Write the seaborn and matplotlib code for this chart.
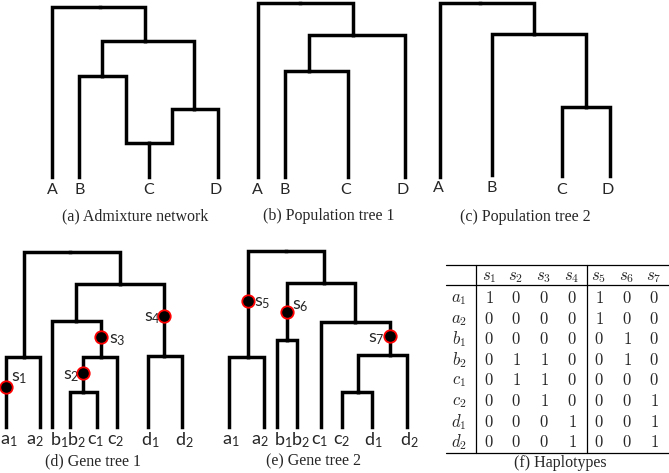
import pandas as pd
import matplotlib.pyplot as plt
import seaborn as sns

# ---- tree / network layouts: node -> (x, y) in figure pixels (y downward) ----
net_a_nodes = {'root': (100, 7), 'n1': (145, 41), 'n2': (102, 76), 'n4': (194, 109),
               'h': (149, 143), 'A': (52, 177), 'B': (79, 177), 'C': (149, 177), 'D': (218, 177)}
net_a_edges = [('root', 'A'), ('root', 'n1'), ('n1', 'n2'), ('n1', 'n4'), ('n2', 'B'),
               ('n2', 'h', 126), ('n4', 'h', 172), ('h', 'C'), ('n4', 'D')]

pop1_nodes = {'root': (300, 3), 'n1': (353, 35), 'n2': (309, 71),
              'A': (258, 177), 'B': (285, 177), 'C': (348, 177), 'D': (405, 177)}
pop1_edges = [('root', 'A'), ('root', 'n1'), ('n1', 'n2'), ('n1', 'D'), ('n2', 'B'), ('n2', 'C')]

pop2_nodes = {'root': (480, 3), 'n1': (534, 34), 'n2': (586, 107),
              'A': (440, 177), 'B': (492, 175), 'C': (562, 176), 'D': (610, 176)}
pop2_edges = [('root', 'A'), ('root', 'n1'), ('n1', 'B'), ('n1', 'n2'), ('n2', 'C'), ('n2', 'D')]

gene1_nodes = {'root': (70, 252), 'na': (24, 357), 'n1': (120, 284), 'nb': (76, 321),
               'n3': (101, 357), 'n2': (83, 392), 'nd': (164, 356),
               'a1': (6, 427), 'a2': (40, 427), 'b1': (52, 427), 'b2': (70, 427),
               'c1': (97, 427), 'c2': (117, 427), 'd1': (148, 427), 'd2': (182, 427)}
gene1_edges = [('root', 'na'), ('root', 'n1'), ('na', 'a1'), ('na', 'a2'), ('n1', 'nb'),
               ('n1', 'nd'), ('nb', 'b1'), ('nb', 'n3'), ('n3', 'n2'), ('n3', 'c2'),
               ('n2', 'b2'), ('n2', 'c1'), ('nd', 'd1'), ('nd', 'd2')]

gene2_nodes = {'root': (286, 251), 'n5': (248, 357), 'n1': (324, 283), 'n6': (287, 340),
               'n2': (355, 322), 'n7': (390, 355), 'n8': (358, 392),
               'a1': (229, 427), 'a2': (264, 427), 'b1': (277, 427), 'b2': (297, 427),
               'c1': (321, 427), 'c2': (342, 427), 'd1': (372, 427), 'd2': (407, 427)}
gene2_edges = [('root', 'n5'), ('root', 'n1'), ('n5', 'a1'), ('n5', 'a2'), ('n1', 'n6'),
               ('n1', 'n2'), ('n6', 'b1'), ('n6', 'b2'), ('n2', 'c1'), ('n2', 'n7'),
               ('n7', 'n8'), ('n7', 'd2'), ('n8', 'c2'), ('n8', 'd1')]

# leaf labels: (text, x, y)
pop_labels = [('A', 52, 190), ('B', 80, 190), ('C', 149, 190), ('D', 216, 190),
              ('A', 257, 190), ('B', 285, 190), ('C', 346, 190), ('D', 403, 190),
              ('A', 438, 188), ('B', 492, 188), ('C', 562, 190), ('D', 608, 190)]
gene_labels = [('a_1', 9, 440), ('a_2', 35, 440), ('b_1', 59, 440), ('b_2', 76, 440),
               ('c_1', 96, 440), ('c_2', 116, 440), ('d_1', 150, 440), ('d_2', 184, 440),
               ('a_1', 231, 440), ('a_2', 260, 440), ('b_1', 283, 440), ('b_2', 300, 440),
               ('c_1', 320, 440), ('c_2', 342, 440), ('d_1', 373, 440), ('d_2', 409, 440)]

# mutations: (name, dot x, dot y, label x, label y)
mutations = [('s_1', 6, 387, 19, 377), ('s_2', 83, 373, 71, 375), ('s_3', 101, 337, 117, 339),
             ('s_4', 164, 316, 152, 317), ('s_5', 248, 301, 262, 302),
             ('s_6', 287, 312, 300, 305), ('s_7', 390, 336, 376, 338)]

captions = [('(a) Admixture network', 135, 216), ('(b) Population tree 1', 329, 216),
            ('(c) Population tree 2', 525, 217), ('(d) Gene tree 1', 93, 461),
            ('(e) Gene tree 2', 314, 461), ('(f) Haplotypes', 560, 463)]

# haplotype table
hap_rows = ['a_1', 'a_2', 'b_1', 'b_2', 'c_1', 'c_2', 'd_1', 'd_2']
hap_cols = ['s_1', 's_2', 's_3', 's_4', 's_5', 's_6', 's_7']
haplotypes = [[1, 0, 0, 0, 1, 0, 0],
              [0, 0, 0, 0, 1, 0, 0],
              [0, 0, 0, 0, 0, 1, 0],
              [0, 1, 1, 0, 0, 1, 0],
              [0, 1, 1, 0, 0, 0, 0],
              [0, 0, 1, 0, 0, 0, 1],
              [0, 0, 0, 1, 0, 0, 1],
              [0, 0, 0, 1, 0, 0, 1]]
col_x = [489, 516, 544, 572, 599, 627, 654]
row_y0, row_dy = 298, 20.6


def tree_segments(nodes, edges, tag):
    rows = []
    for k, e in enumerate(edges):
        xp, yp = nodes[e[0]]
        xc, yc = nodes[e[1]]
        bend = e[2] if len(e) > 2 else xc
        pts = [(xp, yp), (bend, yp), (bend, yc), (xc, yc)]
        clean = [pts[0]]
        for p in pts[1:]:
            if p != clean[-1]:
                clean.append(p)
        for x, y in clean:
            rows.append({'seg': f'{tag}{k}', 'x': x, 'y': y})
    return rows


sns.set_theme(style='white')
plt.rcParams['mathtext.fontset'] = 'custom'
plt.rcParams['mathtext.rm'] = 'Lato'
plt.rcParams['mathtext.it'] = 'Lato:italic'

fig = plt.figure(figsize=(6.69, 4.73), dpi=100)
ax = fig.add_axes([0, 0, 1, 1])

segs = []
for tag, (nodes, edges) in {'a': (net_a_nodes, net_a_edges), 'b': (pop1_nodes, pop1_edges),
                            'c': (pop2_nodes, pop2_edges), 'd': (gene1_nodes, gene1_edges),
                            'e': (gene2_nodes, gene2_edges)}.items():
    segs += tree_segments(nodes, edges, tag)
seg_df = pd.DataFrame(segs)

sns.lineplot(data=seg_df, x='x', y='y', units='seg', estimator=None, sort=False,
             color='black', linewidth=2.5, solid_capstyle='projecting',
             solid_joinstyle='miter', ax=ax)

mut_df = pd.DataFrame(mutations, columns=['name', 'x', 'y', 'lx', 'ly'])
sns.scatterplot(data=mut_df, x='x', y='y', s=80, color='black', edgecolor='red',
                linewidth=1.3, zorder=5, ax=ax)

for txt, x, y in pop_labels:
    ax.text(x, y, txt, ha='center', va='center', fontsize=11.5, family='Lato')
for txt, x, y in gene_labels:
    ax.text(x, y, f'$\\mathrm{{{txt[0]}}}_{txt[2]}$', ha='center', va='center',
            fontsize=13, math_fontfamily='custom')
for name, x, y, lx, ly in mutations:
    ax.text(lx, ly, f'$\\mathrm{{{name[0]}}}_{name[2]}$', ha='center', va='center',
            fontsize=13, math_fontfamily='custom')
for txt, x, y in captions:
    ax.text(x, y, txt, ha='center', va='center', fontsize=11.5, family='Liberation Serif')

# table
tab_left, tab_right = 446, 669
top_y, head_line, bottom_y = 265, 285, 453
for hy in (top_y, head_line, bottom_y):
    ax.plot([tab_left, tab_right], [hy, hy], color='black', lw=0.9)
for vx in (476, 587):
    ax.plot([vx, vx], [top_y, bottom_y], color='black', lw=0.9)
for j, c in enumerate(hap_cols):
    ax.text(col_x[j], 276, f'${c}$', ha='center', va='center', fontsize=12,
            math_fontfamily='cm')
for i, r in enumerate(hap_rows):
    y = row_y0 + i * row_dy
    ax.text(459, y, f'${r}$', ha='center', va='center', fontsize=12, math_fontfamily='cm')
    for j, v in enumerate(haplotypes[i]):
        ax.text(col_x[j], y, f'${v}$', ha='center', va='center', fontsize=12,
                math_fontfamily='cm')

ax.set_xlim(0, 669)
ax.set_ylim(473, 0)
ax.axis('off')
fig.savefig('out.png', dpi=100)
